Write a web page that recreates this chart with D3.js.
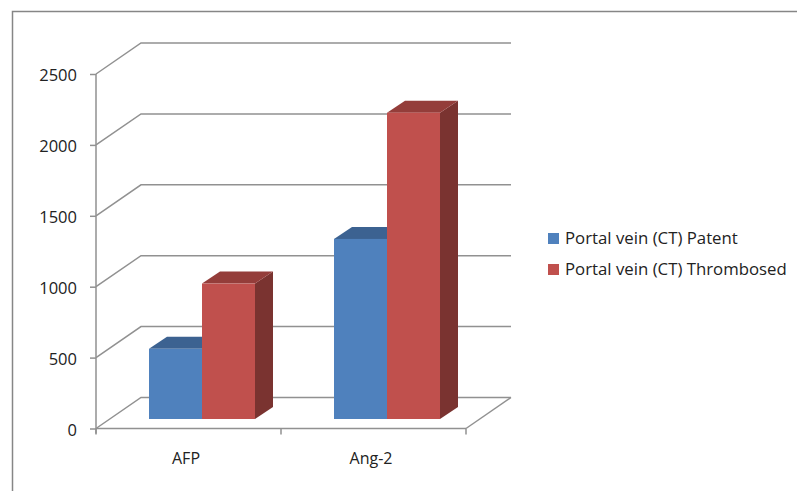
<!DOCTYPE html>
<html>
<head>
<meta charset="utf-8">
<script src="https://cdn.jsdelivr.net/npm/d3@7"></script>
<style>
  html, body { margin: 0; padding: 0; background: #fff; }
  svg { display: block; }
  text { font-family: "Open Sans", "Noto Sans", sans-serif; fill: #222; }
</style>
</head>
<body>
<svg id="chart" width="797" height="491"></svg>
<script>
const categories = ["AFP", "Ang-2"];
const seriesNames = ["Portal vein (CT) Patent", "Portal vein (CT) Thrombosed"];
const patentValues = [495, 1270];
const thrombosedValues = [955, 2160];
const tickValues = [0, 500, 1000, 1500, 2000, 2500];
const seriesColors = ["#4f81bd", "#c0504d"];
const topColors = ["#3c6291", "#943d3a"];
const sideColors = ["#2f4f75", "#7a3330"];
const gridColor = "#919191";

const svg = d3.select("#chart");

// Front plane of the 3D box, plus the oblique offset to its back plane.
const x = d3.scaleBand().domain(categories).range([96, 466]);
const y = d3.scaleLinear().domain([0, 2500]).range([428.5, 74]);
const depth = { dx: 45, dy: -31 };

// Bars stand part-way into the box and are themselves a slab of fixed depth.
const barInset = { dx: 13.5, dy: -9.5 };
const barDepth = { dx: 18, dy: -12 };
const barWidth = 53;
const barOffset = (x.bandwidth() - barWidth * seriesNames.length) / 2;

// Outer chart frame, open at the right and bottom edges.
svg.append("path")
  .attr("d", "M12.5,491V11.5H797")
  .attr("fill", "none").attr("stroke", "#868686").attr("stroke-width", 1.5);

// Back-wall gridlines with their diagonal returns to the value axis.
svg.append("g").selectAll("path").data(tickValues).join("path")
  .attr("d", v => {
    const yy = y(v);
    return `M${x.range()[0]},${yy}L${x.range()[0] + depth.dx},${yy + depth.dy}H${x.range()[1] + depth.dx}`;
  })
  .attr("fill", "none").attr("stroke", gridColor).attr("stroke-width", 1.5);

// Right-hand edge of the floor.
svg.append("path")
  .attr("d", `M${x.range()[1]},${y(0)}L${x.range()[1] + depth.dx},${y(0) + depth.dy}`)
  .attr("fill", "none").attr("stroke", gridColor).attr("stroke-width", 1.5);

// Bars, painted left to right so each front face overlaps its neighbour's side.
const bars = [];
categories.forEach((c, i) => {
  bars.push({ c, s: 0, v: patentValues[i] });
  bars.push({ c, s: 1, v: thrombosedValues[i] });
});
const barG = svg.append("g").selectAll("g").data(bars).join("g");
const left = d => x(d.c) + barOffset + d.s * barWidth + barInset.dx;
const top_ = d => y(d.v) + barInset.dy;
const base = () => y(0) + barInset.dy;

barG.append("path")
  .attr("fill", d => sideColors[d.s])
  .attr("d", d => {
    const r = left(d) + barWidth;
    return `M${r},${top_(d)}l${barDepth.dx},${barDepth.dy}V${base() + barDepth.dy}L${r},${base()}Z`;
  });
barG.append("path")
  .attr("fill", d => topColors[d.s])
  .attr("d", d => {
    const l = left(d);
    return `M${l},${top_(d)}l${barDepth.dx},${barDepth.dy}h${barWidth}l${-barDepth.dx},${-barDepth.dy}Z`;
  });
barG.append("rect")
  .attr("fill", d => seriesColors[d.s])
  .attr("x", left)
  .attr("y", top_)
  .attr("width", barWidth)
  .attr("height", d => base() - top_(d));

// Value axis.
const yAxis = svg.append("g").attr("transform", "translate(96,0)")
  .call(d3.axisLeft(y).tickValues(tickValues).tickSize(6).tickPadding(13).tickFormat(d3.format("d")));
yAxis.selectAll("path, line").attr("stroke", gridColor).attr("stroke-width", 1.5);
yAxis.select(".domain").attr("d", `M0,${y(2500)}V${y(0) + 5}`);
yAxis.selectAll("text").attr("font-size", 16.5).attr("fill", "#222")
  .style("font-family", '"Open Sans", sans-serif').attr("dy", "0.42em");

// Category axis: ticks sit on band edges, labels in band centres.
const xAxisG = svg.append("g").attr("transform", `translate(0,${y(0)})`);
xAxisG.append("path").attr("d", `M${x.range()[0]},0H${x.range()[1]}`)
  .attr("stroke", gridColor).attr("stroke-width", 1.5);
const edges = categories.map(c => x(c)).concat(x.range()[1]);
xAxisG.selectAll("line").data(edges).join("line")
  .attr("x1", d => d).attr("x2", d => d).attr("y1", 0).attr("y2", 6)
  .attr("stroke", gridColor).attr("stroke-width", 1.5);
xAxisG.selectAll("text").data(categories).join("text")
  .attr("x", d => x(d) + x.bandwidth() / 2 - 2.5)
  .attr("y", 35)
  .attr("text-anchor", "middle")
  .attr("font-size", 16)
  .text(d => d);

// Legend.
const legend = svg.append("g").selectAll("g").data(seriesNames).join("g")
  .attr("transform", (d, i) => `translate(548,${238.5 + i * 31})`);
legend.append("rect")
  .attr("x", 0).attr("y", -5.5).attr("width", 11).attr("height", 11)
  .attr("fill", (d, i) => seriesColors[i]);
legend.append("text")
  .attr("x", 17).attr("y", 5.5)
  .attr("font-size", 16.8)
  .text(d => d);
</script>
</body>
</html>
